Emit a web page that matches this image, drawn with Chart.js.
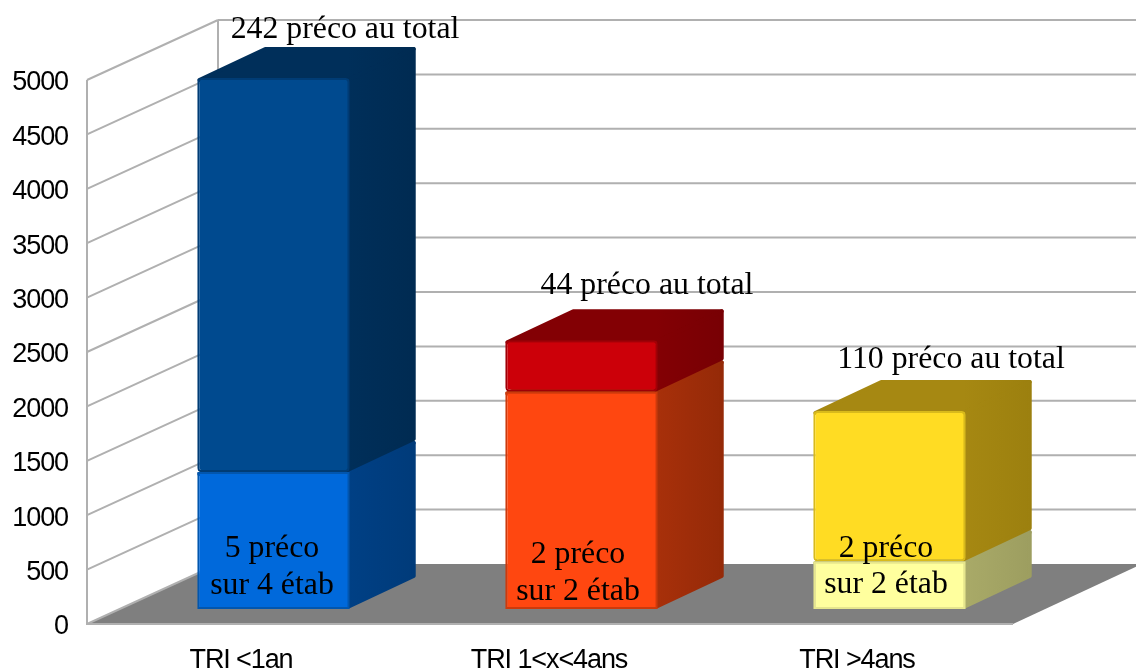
<!DOCTYPE html>
<html>
<head>
<meta charset="utf-8">
<title>TRI</title>
<script src="https://cdn.jsdelivr.net/npm/chart.js@4"></script>
<style>
  html, body { margin: 0; background: #fff; }
  #myChart { display: block; }
</style>
</head>
<body>
<canvas id="myChart" width="1136" height="670"></canvas>
<script>
const categories = ['TRI <1an', 'TRI 1<x<4ans', 'TRI >4ans'];
const lowerValues = [1260, 2000, 440];
const upperValues = [3620, 470, 1380];
const yTicks = [0, 500, 1000, 1500, 2000, 2500, 3000, 3500, 4000, 4500, 5000];
const totalNotes = ['242 préco au total', '44 préco au total', '110 préco au total'];
const innerNotes = [['5 préco', 'sur 4 étab'], ['2 préco', 'sur 2 étab'], ['2 préco', 'sur 2 étab']];

const lowerFront = ['#0069db', '#ff4710', '#ffff9e'];
const lowerEdge = ['#0256ae', '#cc3a0c', '#e6e68e'];
const lowerSide = ['#004085', '#a8300a', '#a9aa68'];
const lowerSideFar = ['#003b7a', '#952a08', '#9d9e60'];
const upperFront = ['#004a8f', '#cc0009', '#ffdc23'];
const upperEdge = ['#003c75', '#a00007', '#d8ba1c'];
const upperSide = ['#002f5a', '#830004', '#a68812'];
const upperSideFar = ['#002b52', '#780004', '#9c800f'];

// 3d geometry, in pixels
const wall = { dx: 131, dy: 60, right: 1136 };
const box = { dx: 66, dy: 31, shiftX: 32.5, shiftY: 15 };

// where the notes sit: centre x, baseline y
const totalAt = [[345, 38], [647, 294], [951, 368]];
const innerAt = [[272, 557, 594], [578, 563, 600], [886, 557, 593]];

function poly(ctx, pts, color) {
  ctx.beginPath();
  pts.forEach((p, i) => i ? ctx.lineTo(p[0], p[1]) : ctx.moveTo(p[0], p[1]));
  ctx.closePath();
  ctx.fillStyle = color;
  ctx.strokeStyle = color;
  ctx.lineWidth = 4;
  ctx.lineJoin = 'round';
  ctx.fill();
  ctx.stroke();
}

const threeD = {
  id: 'threeD',
  beforeDraw(chart) {
    // axis labels in the reference are tall and tightly set
    chart.ctx.letterSpacing = '-1.1px';
  },
  beforeDatasetsDraw(chart) {
    const { ctx, scales: { x, y } } = chart;
    const left = x.left, front = y.getPixelForValue(0), backX = left + wall.dx;
    ctx.letterSpacing = '0px';

    // floor
    ctx.save();
    ctx.fillStyle = '#7f7f7f';
    ctx.beginPath();
    ctx.moveTo(left, front);
    ctx.lineTo(backX, front - wall.dy);
    ctx.lineTo(x.right + wall.dx, front - wall.dy);
    ctx.lineTo(x.right + 2, front);
    ctx.closePath();
    ctx.fill();

    // walls
    ctx.strokeStyle = '#b0b0b0';
    ctx.lineWidth = 2;
    ctx.beginPath();
    yTicks.forEach(v => {
      const py = y.getPixelForValue(v);
      ctx.moveTo(left, py);
      ctx.lineTo(backX, py - wall.dy);
      if (v > 0) {
        ctx.moveTo(backX, py - wall.dy);
        ctx.lineTo(wall.right, py - wall.dy);
      }
    });
    ctx.moveTo(left, y.getPixelForValue(5000));
    ctx.lineTo(left, front);
    ctx.lineTo(x.right + 2, front);
    ctx.moveTo(backX, y.getPixelForValue(5000) - wall.dy);
    ctx.lineTo(backX, front - wall.dy);
    ctx.stroke();

    // side and top faces, lower boxes first
    const sides = [lowerSide, upperSide];
    const sidesFar = [lowerSideFar, upperSideFar];
    ctx.filter = 'blur(0.6px)';
    [0, 1].forEach(d => {
      chart.getDatasetMeta(d).data.forEach((bar, i) => {
        const p = bar.getProps(['x', 'y', 'base', 'width'], true);
        const r = p.x + p.width / 2 + box.shiftX - 2;
        const l = p.x - p.width / 2 + box.shiftX + 2;
        const t = p.y - box.shiftY + 2;
        const b = p.base - box.shiftY - 2;
        const shade = ctx.createLinearGradient(r, 0, r + box.dx, 0);
        shade.addColorStop(0, sides[d][i]);
        shade.addColorStop(1, sidesFar[d][i]);
        poly(ctx, [[l, t], [l + box.dx, t - box.dy], [r + box.dx, t - box.dy], [r, t]], shade);
        poly(ctx, [[r, t], [r + box.dx, t - box.dy], [r + box.dx, b - box.dy], [r, b]], shade);
      });
    });
    ctx.restore();
  },
  beforeDatasetDraw(chart) {
    chart.ctx.save();
    chart.ctx.translate(box.shiftX, -box.shiftY);
    chart.ctx.filter = 'blur(0.6px)';
  },
  afterDatasetDraw(chart) {
    chart.ctx.restore();
  },
  afterDatasetsDraw(chart) {
    const ctx = chart.ctx;
    ctx.save();
    ctx.fillStyle = '#000';
    ctx.textAlign = 'center';
    ctx.textBaseline = 'alphabetic';
    ctx.font = '31.8px "Liberation Serif"';
    totalNotes.forEach((t, i) => ctx.fillText(t, totalAt[i][0], totalAt[i][1]));
    innerNotes.forEach((lines, i) => {
      ctx.fillText(lines[0], innerAt[i][0], innerAt[i][1]);
      ctx.fillText(lines[1], innerAt[i][0], innerAt[i][2]);
    });
    ctx.restore();
  }
};

new Chart(document.getElementById('myChart').getContext('2d'), {
  type: 'bar',
  data: {
    labels: categories,
    datasets: [
      { label: 'lower', data: lowerValues, backgroundColor: lowerFront, borderColor: lowerEdge },
      { label: 'upper', data: upperValues, backgroundColor: upperFront, borderColor: upperEdge }
    ].map(d => Object.assign(d, { borderWidth: 2, borderRadius: 4, borderSkipped: false, clip: false, categoryPercentage: 1, barPercentage: 0.495 }))
  },
  options: {
    responsive: false,
    animation: false,
    layout: { padding: { left: 0, right: 125, top: 80, bottom: 0 } },
    plugins: { legend: { display: false }, tooltip: { enabled: false } },
    scales: {
      x: {
        stacked: true,
        grid: { display: false },
        border: { display: false },
        afterFit: s => { s.height = 46; },
        ticks: { color: '#000', padding: 12, maxRotation: 0, font: { family: '"Liberation Sans"', size: 27 } }
      },
      y: {
        stacked: true,
        min: 0,
        max: 5000,
        grid: { display: false },
        border: { display: false },
        afterFit: s => { s.width = 87; },
        ticks: { color: '#000', stepSize: 500, padding: 11, labelOffset: 3, callback: v => String(v), font: { family: '"Liberation Sans"', size: 27 } }
      }
    }
  },
  plugins: [threeD]
});
</script>
</body>
</html>
